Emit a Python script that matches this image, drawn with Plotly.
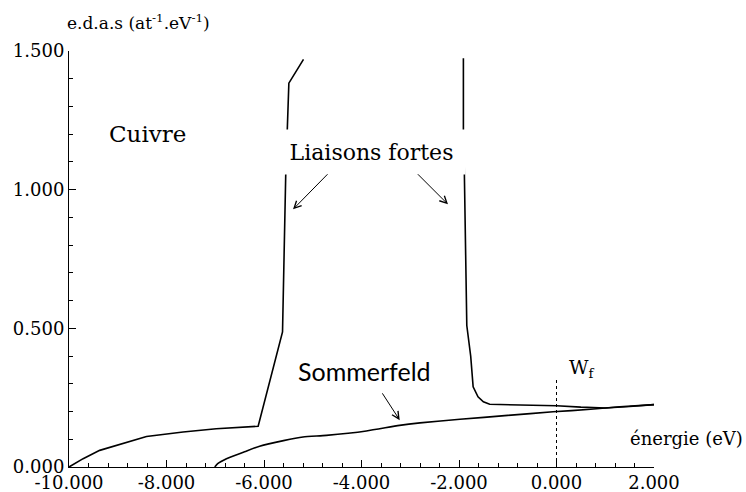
import plotly.graph_objects as go

# Copper DOS (two branches separated by the off-scale d band)
cu_energy = [-10.0, -9.71, -9.37, -8.82, -8.41, -7.66, -6.98, -6.12, -5.62, -5.555, -5.49, -5.19,
             None,
             -1.91, -1.91, -1.89, -1.86, -1.84, -1.76, -1.71, -1.61, -1.50, -1.37, -0.5, 0.0, 0.5, 1.0, 1.5, 2.0]
cu_dos = [0.0, 0.03, 0.06, 0.09, 0.11, 0.126, 0.138, 0.147, 0.487, 1.047, 1.384, 1.47,
          None,
          1.474, 1.206, 1.059, 0.78, 0.51, 0.40, 0.289, 0.253, 0.235, 0.226, 0.223, 0.221, 0.216, 0.213, 0.218, 0.225]

# Free-electron (Sommerfeld) DOS
som_energy = [-7.01, -6.95, -6.77, -6.4, -6.09, -5.6, -5.2, -4.72, -3.9, -3.22, -2.8, -1.98, -1.0, -0.07, 0.7, 1.3, 2.0]
som_dos = [0.0, 0.012, 0.03, 0.055, 0.075, 0.095, 0.108, 0.114, 0.13, 0.15, 0.159, 0.172, 0.186, 0.199, 0.208, 0.217, 0.225]

x_ticks = [-10, -8, -6, -4, -2, 0, 2]
x_labels = ["-10.000", "-8.000", "-6.000", "-4.000", "-2.000", "0.000", "2.000"]
y_ticks = [0.0, 0.5, 1.0, 1.5]

fermi_level = 0.0
fermi_top = 0.324

# Liberation Serif does not resolve in the renderer; DejaVu Serif does
SERIF = "DejaVu Serif"
SANS = "Lato"

fig = go.Figure()
fig.add_trace(go.Scatter(x=cu_energy, y=cu_dos, mode="lines",
                         line=dict(color="black", width=1.6), connectgaps=False,
                         hoverinfo="skip"))
fig.add_trace(go.Scatter(x=som_energy, y=som_dos, mode="lines",
                         line=dict(color="black", width=1.6, shape="spline", smoothing=0.6),
                         hoverinfo="skip"))
fig.add_trace(go.Scatter(x=[fermi_level, fermi_level], y=[0, fermi_top], mode="lines",
                         line=dict(color="black", width=1, dash="dot"), hoverinfo="skip"))

# labels
fig.add_annotation(x=-8.386, y=1.20, text="Cuivre", showarrow=False,
                   font=dict(family=SERIF, size=23, color="black"))
fig.add_annotation(x=-3.79, y=1.135, text="Liaisons fortes", showarrow=False,
                   font=dict(family=SERIF, size=22, color="black"),
                   bgcolor="white", width=185, height=42)
fig.add_annotation(x=-3.93, y=0.3455, text="Sommerfeld", showarrow=False,
                   font=dict(family=SANS, size=25, color="black"))
fig.add_annotation(x=0.209, y=0.356, text="W<sub>f</sub>", showarrow=False,
                   xanchor="left", font=dict(family=SERIF, size=19, color="black"))

# arrows
for tail, head in [((-4.667, 1.061), (-5.405, 0.929)),
                   ((-2.874, 1.061), (-2.226, 0.947)),
                   ((-3.592, 0.271), (-3.216, 0.169))]:
    fig.add_annotation(x=head[0], y=head[1], ax=tail[0], ay=tail[1],
                       xref="x", yref="y", axref="x", ayref="y", text="",
                       showarrow=True, arrowhead=5, arrowsize=1.4, arrowwidth=1,
                       arrowcolor="black")

# axis titles
fig.add_annotation(xref="paper", yref="paper", x=-0.0074, y=1.0698,
                   text="e.d.a.s (at<sup>-1</sup>.eV<sup>-1</sup>)", showarrow=False,
                   xanchor="left", yanchor="middle",
                   font=dict(family=SERIF, size=17, color="black"))
fig.add_annotation(xref="paper", yref="paper", x=1.1556, y=0.069,
                   text="énergie (eV)", showarrow=False,
                   xanchor="right", yanchor="middle",
                   font=dict(family=SERIF, size=18, color="black"))

fig.update_xaxes(range=[-10, 2], tickvals=x_ticks, ticktext=x_labels,
                 ticks="inside", ticklen=7, tickcolor="black", tickwidth=1,
                 minor=dict(dtick=0.4, tick0=-10, ticks="inside", ticklen=4,
                            tickcolor="black", showgrid=False),
                 showline=True, linecolor="black", linewidth=1,
                 showgrid=False, zeroline=False, automargin=False,
                 ticklabelstandoff=-1,
                 tickfont=dict(family=SERIF, size=18, color="black"))
fig.update_yaxes(range=[0, 1.5], tickvals=y_ticks, tickformat=".3f",
                 ticks="inside", ticklen=7, tickcolor="black", tickwidth=1,
                 minor=dict(dtick=0.1, tick0=0, ticks="inside", ticklen=4,
                            tickcolor="black", showgrid=False),
                 showline=True, linecolor="black", linewidth=1,
                 showgrid=False, zeroline=False, automargin=False,
                 tickfont=dict(family=SERIF, size=18, color="black"))

fig.update_layout(width=746, height=492, showlegend=False,
                  margin=dict(l=69, r=92, t=51, b=25),
                  paper_bgcolor="white", plot_bgcolor="white",
                  font=dict(family=SERIF, color="black"))

# the page's default body margin would shift the figure by 8px
fig.write_html("out.html", config={"displayModeBar": False},
               post_script="document.body.style.margin = '0';")
